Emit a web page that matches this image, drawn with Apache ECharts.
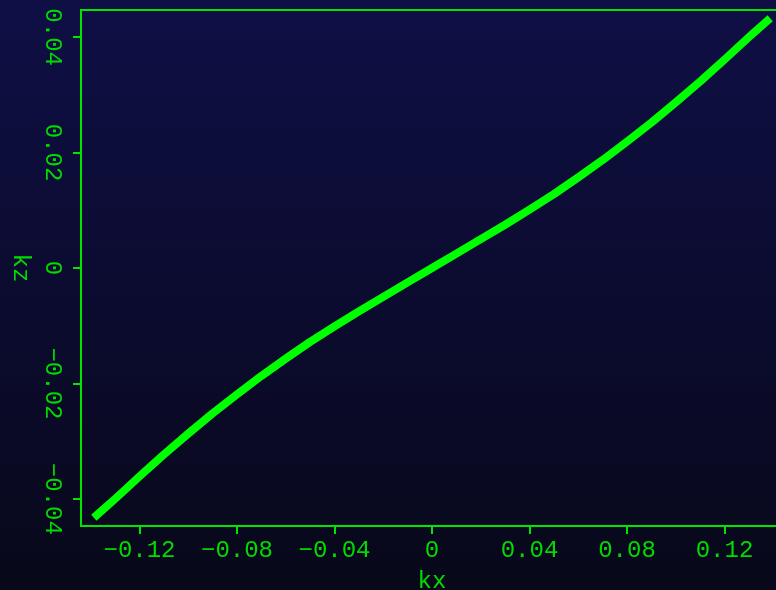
<!DOCTYPE html>
<html>
<head>
<meta charset="utf-8">
<style>
  html, body { margin: 0; padding: 0; background: #0a0a2a; }
  #chart { width: 776px; height: 590px; }
</style>
<script src="https://cdn.jsdelivr.net/npm/echarts@6/dist/echarts.min.js"></script>
</head>
<body>
<div id="chart"></div>
<script>
// kz as a function of kx
const kx = [-0.1375, -0.13, -0.12, -0.11, -0.10, -0.09, -0.08, -0.07, -0.06, -0.05, -0.04, -0.03, -0.02, -0.01,
            0, 0.01, 0.02, 0.03, 0.04, 0.05, 0.06, 0.07, 0.08, 0.09, 0.10, 0.11, 0.12, 0.13, 0.1375];
const kz = [-0.0428, -0.0400, -0.0361, -0.0323, -0.0287, -0.0252, -0.0219, -0.0187, -0.0157, -0.0128, -0.0101, -0.0075, -0.0050, -0.0025,
            0, 0.0025, 0.0050, 0.0075, 0.0101, 0.0128, 0.0157, 0.0187, 0.0219, 0.0252, 0.0287, 0.0323, 0.0361, 0.0400, 0.0428];

const xTicks = [-0.12, -0.08, -0.04, 0, 0.04, 0.08, 0.12];
const yTicks = [-0.04, -0.02, 0, 0.02, 0.04];

const GREEN_LINE = '#00e600';
const GREEN_TEXT = '#00dc00';
const FONT = '"Liberation Mono", "DejaVu Sans Mono", monospace';

function fmt(v) {
  if (Math.abs(v) < 1e-9) return '0';
  const s = Math.abs(v).toFixed(2);
  return v < 0 ? '\u2212' + s : s;
}

const chart = echarts.init(document.getElementById('chart'), null, { renderer: 'canvas' });
chart.setOption({
  animation: false,
  backgroundColor: {
    type: 'linear', x: 0, y: 0, x2: 0, y2: 1,
    colorStops: [
      { offset: 0, color: '#0f0f46' },
      { offset: 1, color: '#08081a' }
    ]
  },
  grid: {
    left: 81, top: 10, right: -7, bottom: 64,
    outerBoundsMode: 'none', containLabel: false,
    show: true, borderColor: GREEN_LINE, borderWidth: 2, backgroundColor: 'transparent'
  },
  xAxis: {
    type: 'value',
    min: -0.144, max: 0.144,
    name: 'kx', nameLocation: 'middle', nameGap: 44,
    nameTextStyle: { color: GREEN_TEXT, fontSize: 24, fontFamily: FONT },
    axisLine: { show: true, onZero: false, lineStyle: { color: GREEN_LINE, width: 2 } },
    axisTick: { show: true, inside: false, length: 8, customValues: xTicks, lineStyle: { color: GREEN_LINE, width: 2 } },
    axisLabel: { show: true, margin: 13, customValues: xTicks, formatter: fmt,
      color: GREEN_TEXT, fontSize: 24, fontFamily: FONT },
    splitLine: { show: false }
  },
  yAxis: {
    type: 'value',
    min: -0.0447, max: 0.0447,
    name: 'kz', nameLocation: 'middle', nameGap: 48, nameRotate: -90,
    nameTextStyle: { color: GREEN_TEXT, fontSize: 24, fontFamily: FONT },
    axisLine: { show: true, onZero: false, lineStyle: { color: GREEN_LINE, width: 2 } },
    axisTick: { show: true, inside: false, length: 8, customValues: yTicks, lineStyle: { color: GREEN_LINE, width: 2 } },
    axisLabel: { show: true, margin: 17, rotate: -90, customValues: yTicks, formatter: fmt,
      color: GREEN_TEXT, fontSize: 24, fontFamily: FONT },
    splitLine: { show: false }
  },
  series: [{
    type: 'line',
    data: kx.map((x, i) => [x, kz[i]]),
    smooth: false,
    showSymbol: false,
    lineStyle: { color: '#00ff00', width: 8, cap: 'square', join: 'round' }
  }]
});
</script>
</body>
</html>
